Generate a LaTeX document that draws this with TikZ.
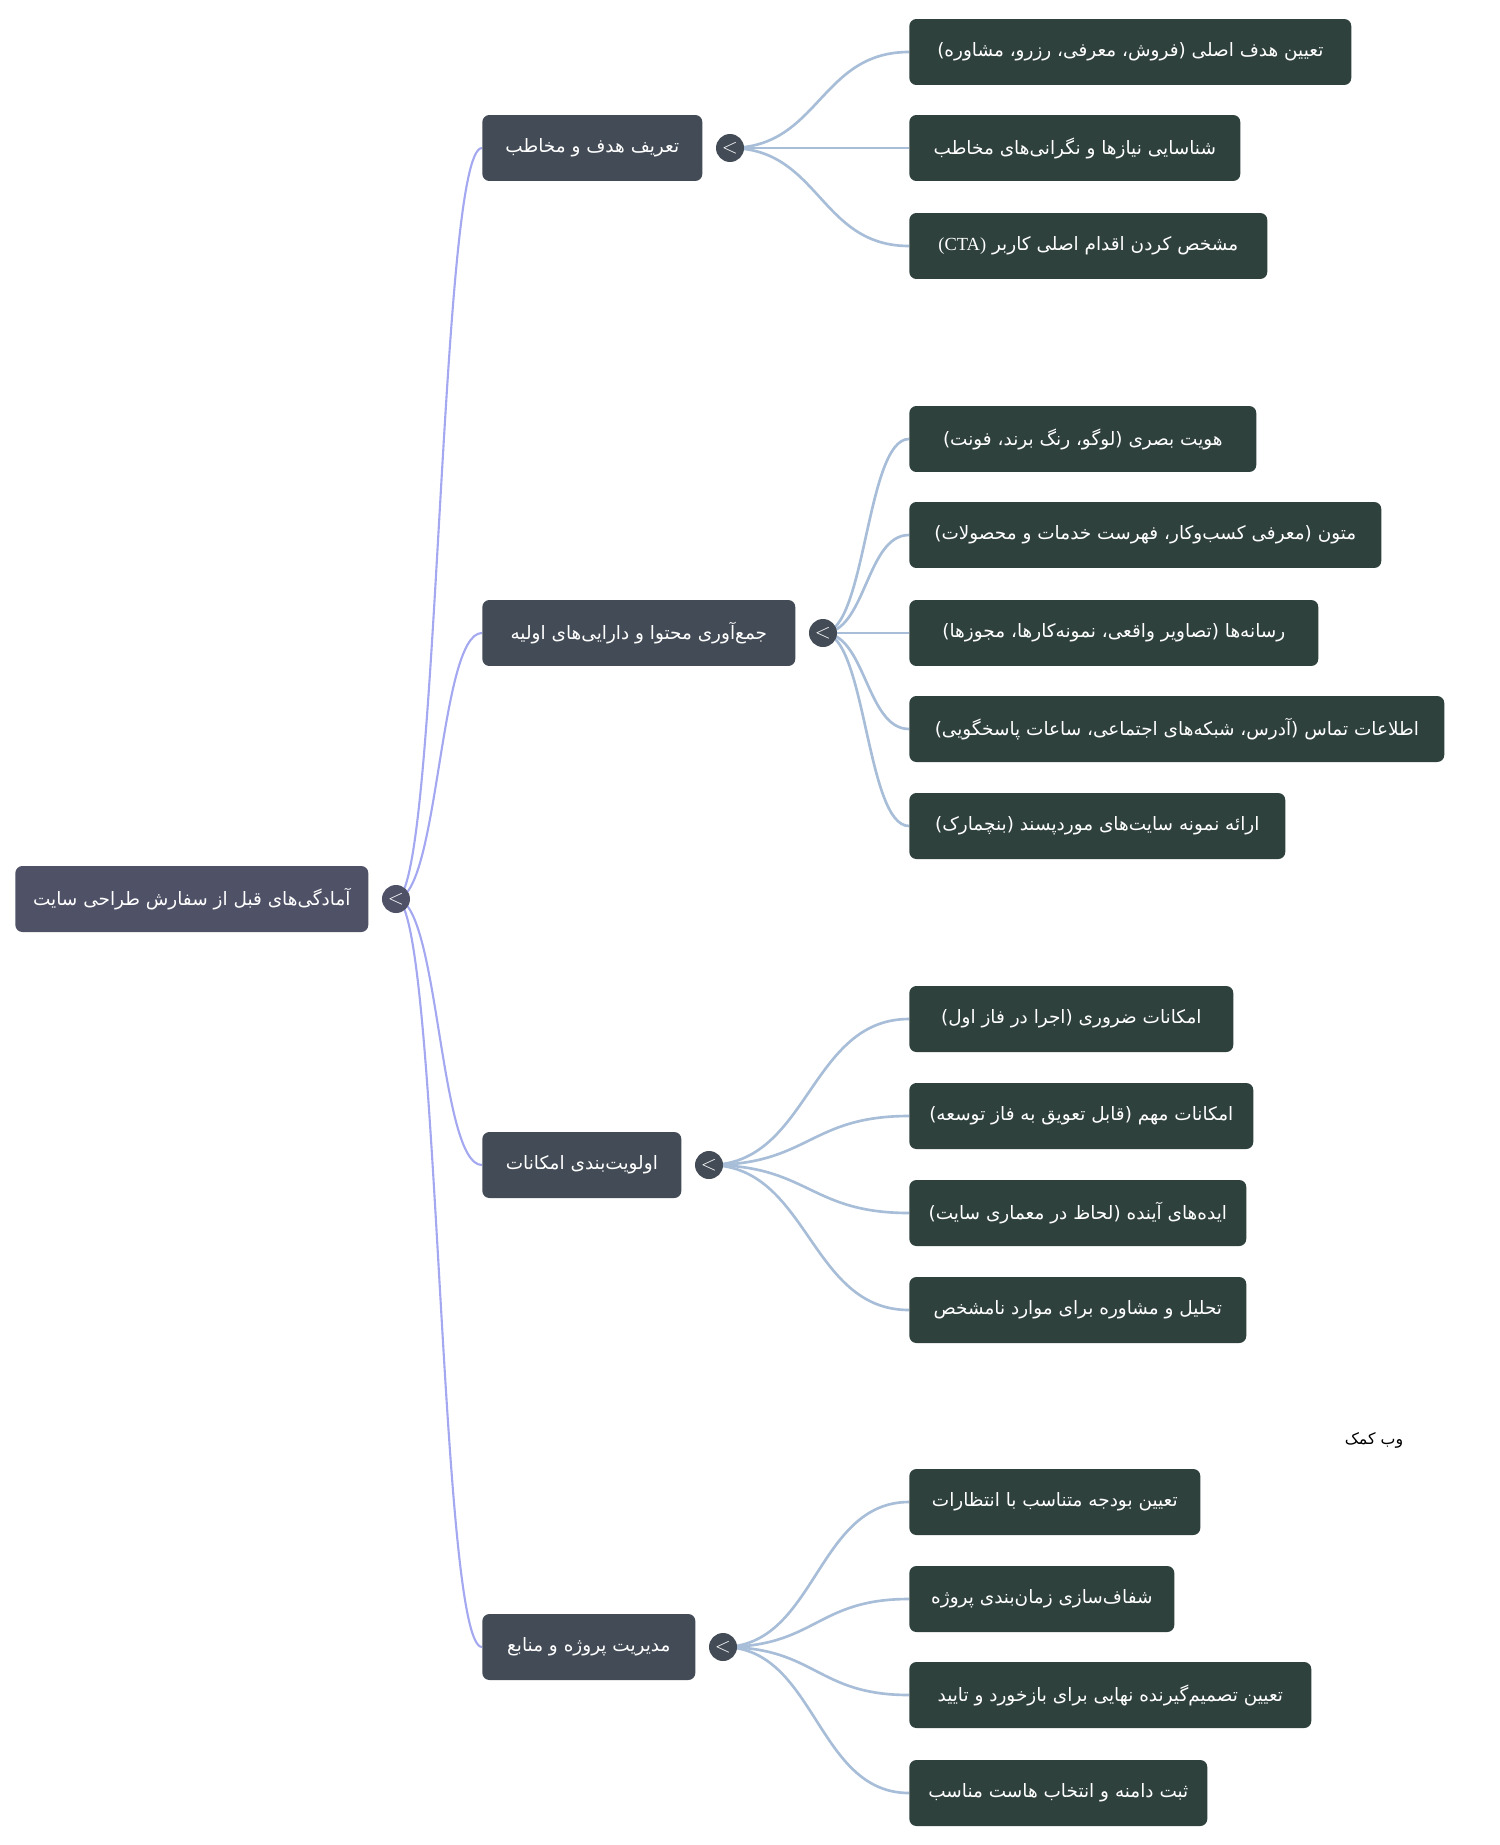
\documentclass[tikz,border=0pt]{standalone}
\usepackage{fontspec}
\setmainfont{DejaVu Sans}
\newfontfamily\fafont[Script=Arabic]{DejaVu Sans}
\newfontfamily\latfont{Liberation Serif}
\TeXXeTstate=1
\usetikzlibrary{positioning,backgrounds,calc}

\definecolor{rootfill}{HTML}{4F5167}
\definecolor{branchfill}{HTML}{434B56}
\definecolor{leaffill}{HTML}{2F413D}
\definecolor{rootline}{HTML}{A3A8F0}
\definecolor{leafline}{HTML}{A7BDD8}

\newcommand{\fa}[1]{\fafont\beginR #1\endR}
\newcommand{\mmlink}[3]{\draw[#1] let \p1=(#2), \p2=(#3) in
  (\p1) .. controls ({(\x1+\x2)/2},\y1) and ({(\x1+\x2)/2},\y2) .. (\p2);}

\tikzset{
  box/.style={rounded corners=4pt, text=white, anchor=west, minimum height=1.32cm,
    inner xsep=0.2cm, font=\fontsize{10.5}{13}\fafont},
  rootbox/.style={box, fill=rootfill},
  branchbox/.style={box, fill=branchfill},
  leafbox/.style={box, fill=leaffill},
  toggle/.style={circle, inner sep=0pt, minimum size=0.56cm, text=white, font=\large},
  rootlink/.style={rootline, line width=1.2pt},
  leaflink/.style={leafline, line width=1.5pt},
}

\begin{document}
\begin{tikzpicture}[x=0.02cm, y=-0.02cm]
  \useasboundingbox (0,0) rectangle (1500,1845);

  % root
  \node[rootbox, minimum width=7.06cm] (root) at (15,899) {\fa{آمادگی‌های قبل از سفارش طراحی سایت}};
  \node[toggle, fill=rootfill, right=0.26cm of root] (root-t) {$<$};

  % branches
  \node[branchbox, minimum width=4.40cm] (goal) at (482,148) {\fa{تعریف هدف و مخاطب}};
  \node[toggle, fill=branchfill, right=0.26cm of goal] (goal-t) {$<$};
  \node[branchbox, minimum width=6.26cm] (content) at (482,633) {\fa{جمع‌آوری محتوا و دارایی‌های اولیه}};
  \node[toggle, fill=branchfill, right=0.26cm of content] (content-t) {$<$};
  \node[branchbox, minimum width=3.98cm] (features) at (482,1165) {\fa{اولویت‌بندی امکانات}};
  \node[toggle, fill=branchfill, right=0.26cm of features] (features-t) {$<$};
  \node[branchbox, minimum width=4.26cm] (manage) at (482,1647) {\fa{مدیریت پروژه و منابع}};
  \node[toggle, fill=branchfill, right=0.26cm of manage] (manage-t) {$<$};

  % leaves: goal
  \node[leafbox, minimum width=8.84cm] (goal-1) at (909,52) {\fa{تعیین هدف اصلی (فروش، معرفی، رزرو، مشاوره)}};
  \node[leafbox, minimum width=6.62cm] (goal-2) at (909,148) {\fa{شناسایی نیازها و نگرانی‌های مخاطب}};
  \node[leafbox, minimum width=7.16cm] (goal-3) at (909,246) {\fa{مشخص کردن اقدام اصلی کاربر \beginL{\latfont (CTA)}\endL}};

  % leaves: content
  \node[leafbox, minimum width=6.94cm] (content-1) at (909,439) {\fa{هویت بصری (لوگو، رنگ برند، فونت)}};
  \node[leafbox, minimum width=9.44cm] (content-2) at (909,535) {\fa{متون (معرفی کسب‌وکار، فهرست خدمات و محصولات)}};
  \node[leafbox, minimum width=8.18cm] (content-3) at (909,633) {\fa{رسانه‌ها (تصاویر واقعی، نمونه‌کارها، مجوزها)}};
  \node[leafbox, minimum width=10.70cm] (content-4) at (909,729) {\fa{اطلاعات تماس (آدرس، شبکه‌های اجتماعی، ساعات پاسخگویی)}};
  \node[leafbox, minimum width=7.52cm] (content-5) at (909,826) {\fa{ارائه نمونه سایت‌های موردپسند (بنچمارک)}};

  % leaves: features
  \node[leafbox, minimum width=6.48cm] (features-1) at (909,1019) {\fa{امکانات ضروری (اجرا در فاز اول)}};
  \node[leafbox, minimum width=6.88cm] (features-2) at (909,1116) {\fa{امکانات مهم (قابل تعویق به فاز توسعه)}};
  \node[leafbox, minimum width=6.74cm] (features-3) at (909,1213) {\fa{ایده‌های آینده (لحاظ در معماری سایت)}};
  \node[leafbox, minimum width=6.74cm] (features-4) at (909,1310) {\fa{تحلیل و مشاوره برای موارد نامشخص}};

  % leaves: manage
  \node[leafbox, minimum width=5.82cm] (manage-1) at (909,1502) {\fa{تعیین بودجه متناسب با انتظارات}};
  \node[leafbox, minimum width=5.30cm] (manage-2) at (909,1599) {\fa{شفاف‌سازی زمان‌بندی پروژه}};
  \node[leafbox, minimum width=8.04cm] (manage-3) at (909,1695) {\fa{تعیین تصمیم‌گیرنده نهایی برای بازخورد و تایید}};
  \node[leafbox, minimum width=5.96cm] (manage-4) at (909,1793) {\fa{ثبت دامنه و انتخاب هاست مناسب}};

  \node[font=\fontsize{9}{11}\fafont] (credit) at (1374,1440) {\fa{وب کمک}};

  % links
  \begin{scope}[on background layer]
    \fill[white] (0,0) rectangle (1500,1845);
    \foreach \b in {goal,content,features,manage}
      {\mmlink{rootlink}{root-t.center}{\b.west}}
    \foreach \i in {1,2,3}
      {\mmlink{leaflink}{goal-t.center}{goal-\i.west}}
    \foreach \i in {1,...,5}
      {\mmlink{leaflink}{content-t.center}{content-\i.west}}
    \foreach \i in {1,...,4}
      {\mmlink{leaflink}{features-t.center}{features-\i.west}}
    \foreach \i in {1,...,4}
      {\mmlink{leaflink}{manage-t.center}{manage-\i.west}}
  \end{scope}
\end{tikzpicture}
\end{document}
